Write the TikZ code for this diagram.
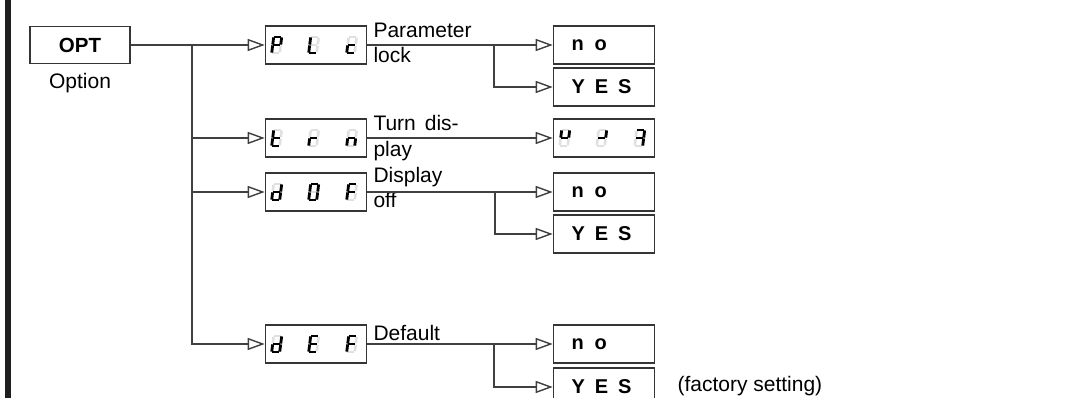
\documentclass[tikz,border=0pt]{standalone}
\usepackage{fontspec}
\setmainfont{Liberation Sans}
\usetikzlibrary{arrows.meta,calc,positioning}
\definecolor{linegray}{HTML}{404040}
\definecolor{boxgray}{HTML}{353535}
\definecolor{segoffgray}{HTML}{E0E0E0}
\tikzset{
    box/.style={draw=boxgray, line width=1.6pt, minimum width=101pt, minimum height=38pt, inner sep=0pt},
    txtbox/.style={box, inner xsep=18pt, text width=65pt, align=left, font=\bfseries\fontsize{20}{24}\selectfont},
    plain/.style={inner sep=0pt, font=\fontsize{21}{25}\selectfont},
    lbl/.style={plain, anchor=base west},
    arr/.style={draw=linegray, line width=1.4pt, -{Triangle[open, length=17pt, width=12pt]}},
    segon/.style={draw=black, line width=2.8pt, shorten <=0.4pt, shorten >=0.4pt},
    segoff/.style={draw=segoffgray, line width=2.6pt, shorten <=0.7pt, shorten >=0.7pt}
}
% one seven segment character, #1 top left, #2 lit segments
\newcommand\segchar[2]{%
    \begin{scope}[shift={#1}]
        \coordinate (a1) at (2,0);  \coordinate (a2) at (10,0);
        \coordinate (b1) at (10,0); \coordinate (b2) at (9,8);
        \coordinate (c1) at (9,8);  \coordinate (c2) at (8,16);
        \coordinate (d1) at (0,16); \coordinate (d2) at (8,16);
        \coordinate (e1) at (1,8);  \coordinate (e2) at (0,16);
        \coordinate (f1) at (2,0);  \coordinate (f2) at (1,8);
        \coordinate (g1) at (1,8);  \coordinate (g2) at (9,8);
        \foreach \s in {a,b,c,d,e,f,g} \path[segoff] (\s1) -- (\s2);
        \foreach \s in {#2} \path[segon] (\s1) -- (\s2);
    \end{scope}}
% three characters in a box
\newcommand\segword[4]{%
    \segchar{($(#1.west)+(7,-8)$)}{#2}
    \segchar{($(#1.west)+(44,-8)$)}{#3}
    \segchar{($(#1.west)+(82,-8)$)}{#4}}
\begin{document}
\begin{tikzpicture}[x=1pt, y=-1pt]
    \useasboundingbox (0,0) rectangle (1066,398);
    % frame
    \path[fill=black!88] (5,0) rectangle (10.5,398);
    % option
    \node[box, minimum width=100pt, minimum height=37pt, font=\bfseries\fontsize{20.5}{24}\selectfont] (opt) at (80,45) {OPT};
    \node[plain, below=9pt of opt] (optlbl) {Option};
    % menu items
    \node[box] (plc) at (316,45) {};
    \node[box] (trn) at (316,138) {};
    \node[box] (dof) at (316,192) {};
    \node[box] (def) at (316,344) {};
    \segword{plc}{a,b,e,f,g}{d,e,f}{d,e,g}
    \segword{trn}{d,e,f,g}{e,g}{c,e,g}
    \segword{dof}{b,c,d,e,g}{a,b,c,d,e,f}{a,e,f,g}
    \segword{def}{b,c,d,e,g}{a,d,e,f,g}{a,e,f,g}
    \node[lbl] (plctop) at ($(plc.east)+(6,-7)$) {Parameter};
    \node[lbl] (plcbot) at ($(plc.east)+(6,18)$) {lock};
    \node[lbl] (trntop) at ($(trn.east)+(6,-7)$) {Turn\hspace{9pt}dis-};
    \node[lbl] (trnbot) at ($(trn.east)+(6,19)$) {play};
    \node[lbl] (doftop) at ($(dof.east)+(6,-9)$) {Display};
    \node[lbl] (dofbot) at ($(dof.east)+(6,16)$) {off};
    \node[lbl] (deftop) at ($(def.east)+(6,-4)$) {Default};
    % values
    \node[txtbox] (plcno) at (604,45) {n\hspace{11pt}o};
    \node[txtbox] (plcyes) at (604,87) {Y\hspace{10pt}E\hspace{10pt}S};
    \node[box] (trnval) at (604,138) {};
    \segword{trnval}{b,f,g}{b,g}{a,b,c,g}
    \node[txtbox] (dofno) at (604,192) {n\hspace{11pt}o};
    \node[txtbox] (dofyes) at (604,234) {Y\hspace{10pt}E\hspace{10pt}S};
    \node[txtbox] (defno) at (604,344) {n\hspace{11pt}o};
    \node[txtbox] (defyes) at (604,387) {Y\hspace{10pt}E\hspace{10pt}S};
    \node[lbl] (factory) at ($(defyes.east)+(22,4)$) {(factory setting)};
    % first level
    \coordinate (j0) at (192,45);
    \path[arr] (opt) -- (plc);
    \path[arr] (j0) |- (trn);
    \path[arr] (j0) |- (dof);
    \path[arr] (j0) |- (def);
    % second level
    \coordinate (jp) at (494,45);
    \coordinate (jd) at (495,192);
    \coordinate (jf) at (494,344);
    \path[arr] (plc) -- (plcno);
    \path[arr] (jp) |- (plcyes);
    \path[arr] (trn) -- (trnval);
    \path[arr] (dof) -- (dofno);
    \path[arr] (jd) |- (dofyes);
    \path[arr] (def) -- (defno);
    \path[arr] (jf) |- (defyes);
\end{tikzpicture}
\end{document}
